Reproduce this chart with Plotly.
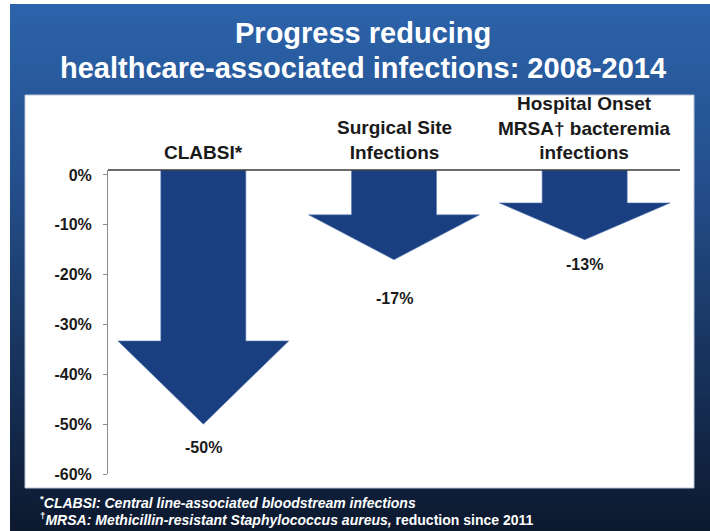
import plotly.graph_objects as go

# ---------------- data ----------------
categories = ["CLABSI*", "Surgical Site<br>Infections", "Hospital Onset<br>MRSA\u2020 bacteremia<br>infections"]
values = [-50, -17, -13]
value_labels = ["-50%", "-17%", "-13%"]
y_ticks = [0, -10, -20, -30, -40, -50, -60]
y_tick_labels = ["0%", "-10%", "-20%", "-30%", "-40%", "-50%", "-60%"]
title_lines = ["Progress reducing", "healthcare-associated infections: 2008-2014"]
footnote_1 = "<sup>*</sup><i>CLABSI: Central line-associated bloodstream infections</i>"
footnote_2 = "<sup>\u2020</sup><i>MRSA: Methicillin-resistant Staphylococcus aureus,</i> reduction since 2011"

# ---------------- style ----------------
W, H = 710, 531
L, R, T, B = 108, 30, 170, 57
PW, PH = W - L - R, H - T - B
Y_TOP = 1
SHAFT_HALF = 0.223
HEAD_HALF = 0.448
HEAD_LEN = [16.7, 9.0, 7.4]
LABEL_GAP = [13, 28, 14]
ARROW_COLOR = "#1a3f80"
TEXT_COLOR = "#1a1a1a"
FONT = "Liberation Sans, Arial, sans-serif"
GRAD_STOPS = [(4, (44, 99, 170)), (180, (36, 79, 140)), (480, (16, 33, 61)), (531, (12, 25, 46))]


def px_x(px):
    return (px - L) / PW


def px_y(py):
    return (H - B - py) / PH


def grad_color(py):
    for (ya, ca), (yb, cb) in zip(GRAD_STOPS[:-1], GRAD_STOPS[1:]):
        if ya <= py <= yb:
            t = (py - ya) / (yb - ya)
            return tuple(int(round(ca[j] + (cb[j] - ca[j]) * t)) for j in range(3))
    return GRAD_STOPS[-1][1]


fig = go.Figure()

# arrows from data
for i, v in enumerate(values):
    base = v + HEAD_LEN[i]
    xs = [i - SHAFT_HALF, i - SHAFT_HALF, i - HEAD_HALF, i, i + HEAD_HALF, i + SHAFT_HALF, i + SHAFT_HALF, i - SHAFT_HALF]
    ys = [Y_TOP, base, base, v, base, base, Y_TOP, Y_TOP]
    fig.add_trace(go.Scatter(
        x=xs, y=ys, mode="lines", fill="toself", fillcolor=ARROW_COLOR,
        line=dict(color="#5e7fb5", width=0.6), hoverinfo="skip", showlegend=False,
    ))

# value labels
for i, (v, lab) in enumerate(zip(values, value_labels)):
    fig.add_annotation(x=i, y=v, xref="x", yref="y", text=lab, showarrow=False,
                       yanchor="top", yshift=-LABEL_GAP[i],
                       font=dict(family=FONT, size=16, color=TEXT_COLOR, weight="bold"))

# category labels above the top line
for i, c in enumerate(categories):
    fig.add_annotation(x=i, y=1, xref="x", yref="paper", text=c, showarrow=False,
                       yanchor="bottom", yshift=5,
                       font=dict(family=FONT, size=19, color=TEXT_COLOR, weight="bold"))

# background gradient slide
shapes = []
N = 100
y_start, y_end = 4, 531
step = (y_end - y_start) / N
for k in range(N):
    y0 = y_start + k * step
    y1 = y0 + step + 0.8
    col = grad_color(y0 + step / 2)
    shapes.append(dict(type="rect", xref="paper", yref="paper", layer="below",
                       x0=px_x(10), x1=px_x(712), y0=px_y(min(y1, 531)), y1=px_y(y0),
                       fillcolor="rgb(%d,%d,%d)" % col, line=dict(width=0)))
# white panel
shapes.append(dict(type="rect", xref="paper", yref="paper", layer="below",
                   x0=px_x(25), x1=px_x(694), y0=px_y(488), y1=px_y(95),
                   fillcolor="white", line=dict(color="#b9c5d6", width=1)))
# top baseline
shapes.append(dict(type="line", xref="paper", yref="paper", layer="above",
                   x0=0, x1=1, y0=1, y1=1, line=dict(color="#3a3a3a", width=1.5)))

# title
for k, line in enumerate(title_lines):
    fig.add_annotation(x=px_x(363), y=px_y(33 + 35 * k), xref="paper", yref="paper",
                       yanchor="middle", xanchor="center", text=line, showarrow=False,
                       font=dict(family=FONT, size=29, color="white", weight="bold"))

# footnotes
fig.add_annotation(x=px_x(38), y=px_y(502), xref="paper", yref="paper", xanchor="left",
                   yanchor="middle", text=footnote_1, showarrow=False,
                   font=dict(family=FONT, size=14, color="white", weight="bold"))
fig.add_annotation(x=px_x(38), y=px_y(519), xref="paper", yref="paper", xanchor="left",
                   yanchor="middle", text=footnote_2, showarrow=False,
                   font=dict(family=FONT, size=14, color="white", weight="bold"))

fig.update_layout(
    width=W, height=H,
    margin=dict(l=L, r=R, t=T, b=B, pad=0),
    paper_bgcolor="white", plot_bgcolor="rgba(0,0,0,0)",
    shapes=shapes, showlegend=False,
    xaxis=dict(range=[-0.5, 2.5], visible=False, fixedrange=True),
    yaxis=dict(range=[-60, Y_TOP], tickvals=y_ticks, ticktext=y_tick_labels,
               showgrid=False, zeroline=False, showline=True, linecolor="#8a8a8a", linewidth=1,
               ticks="outside", ticklen=4, tickcolor="#8a8a8a", ticklabelstandoff=8,
               tickfont=dict(family=FONT, size=16, color=TEXT_COLOR, weight="bold"),
               fixedrange=True),
)

fig.write_html("out.html", config={"displayModeBar": False},
               post_script="document.body.style.margin='0';document.body.style.overflow='hidden';")
